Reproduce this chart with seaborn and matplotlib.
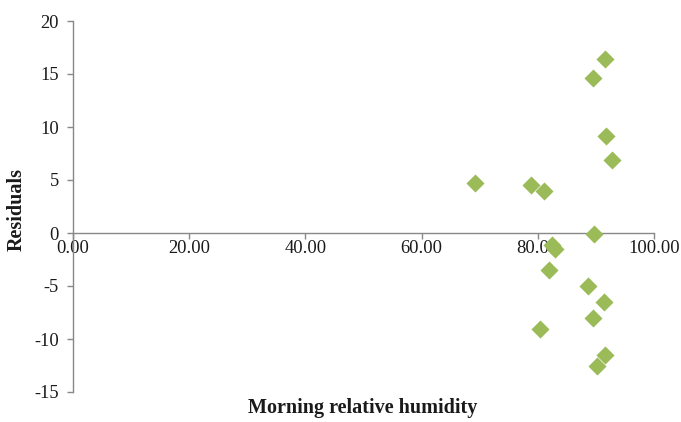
import matplotlib
matplotlib.use("Agg")
import matplotlib.pyplot as plt
import seaborn as sns
import pandas as pd

# Residuals against morning relative humidity
humidity = [69.2, 78.8, 81.1, 89.5, 91.6, 91.7, 92.8, 89.7, 82.4, 82.9,
            81.9, 88.6, 91.4, 89.5, 80.4, 91.6, 90.2]
residuals = [4.72, 4.53, 3.96, 14.6, 16.4, 9.15, 6.9, -0.1, -1.1, -1.5,
             -3.5, -5.0, -6.5, -8.0, -9.06, -11.5, -12.5]
x_ticks = [0, 20, 40, 60, 80, 100]
y_ticks = [-15, -10, -5, 0, 5, 10, 15, 20]

df = pd.DataFrame({"humidity": humidity, "residuals": residuals})

sns.set_style("white")
plt.rcParams["font.family"] = ["Liberation Serif", "DejaVu Serif"]

fig = plt.figure(figsize=(6.81, 4.22), dpi=100)
ax = fig.add_axes([73 / 681, 30 / 422, (654 - 73) / 681, (401 - 30) / 422])

sns.scatterplot(data=df, x="humidity", y="residuals", marker="D", s=85,
                color="#9BBB59", linewidth=0, ax=ax, zorder=3, clip_on=False)

axis_gray = "#888888"
ax.set_xlim(0, 100)
ax.set_ylim(-15, 20)
ax.set_xticks(x_ticks)
ax.set_xticklabels([f"{v:.2f}" for v in x_ticks])
ax.set_yticks(y_ticks)
ax.set_yticklabels([f"{v:g}" for v in y_ticks])

for side in ("top", "right"):
    ax.spines[side].set_visible(False)
ax.spines["bottom"].set_position(("data", 0))
ax.spines["left"].set_color(axis_gray)
ax.spines["bottom"].set_color(axis_gray)
ax.spines["left"].set_linewidth(1.0)
ax.spines["bottom"].set_linewidth(1.0)

ax.tick_params(axis="both", direction="out", length=4, width=1.0,
               color=axis_gray, labelsize=13.3, labelcolor="#1a1a1a")
ax.tick_params(axis="x", pad=1)
ax.tick_params(axis="y", pad=6)
ax.tick_params(axis="both", bottom=True, left=True)

ax.set_xlabel("")
ax.set_ylabel("")
fig.text(363 / 681, 1 - 408 / 422, "Morning relative humidity",
         ha="center", va="center", fontsize=14.5, fontweight="bold", color="#1a1a1a")
fig.text(17 / 681, 1 - 210 / 422, "Residuals", rotation=90,
         ha="center", va="center", fontsize=14.5, fontweight="bold", color="#1a1a1a")

fig.savefig("out.png", dpi=100)
